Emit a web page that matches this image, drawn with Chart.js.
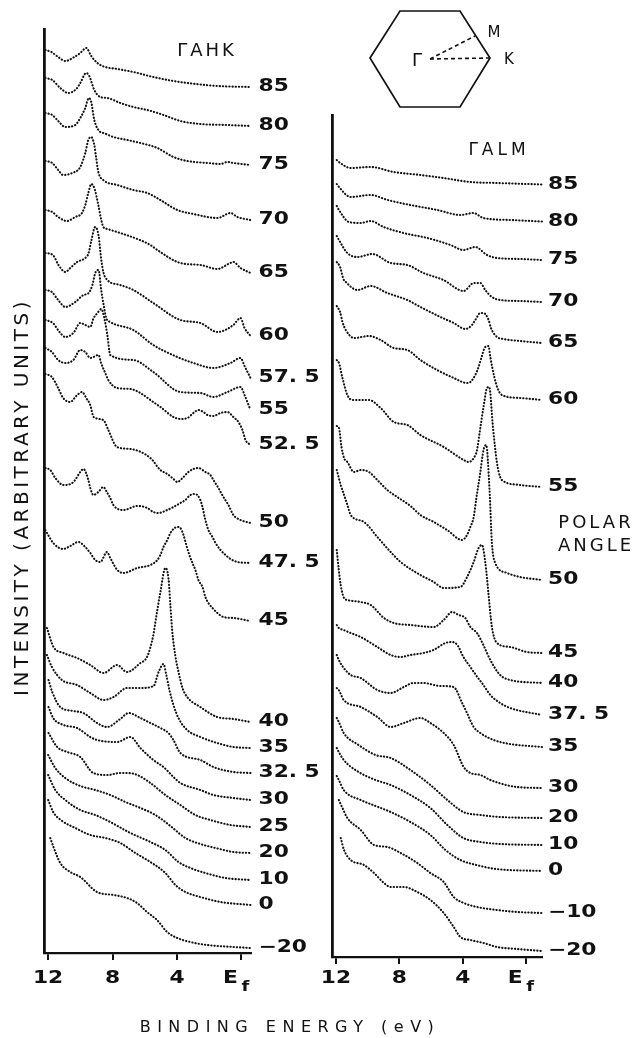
<!DOCTYPE html>
<html>
<head>
<meta charset="utf-8">
<script src="https://cdn.jsdelivr.net/npm/chart.js@4.4.1/dist/chart.umd.min.js"></script>
<style>
  html, body { margin: 0; padding: 0; background: #fff; }
  #page { position: relative; width: 638px; height: 1038px; overflow: hidden; font-family: "DejaVu Sans", sans-serif; color: #111; }
  #page canvas { position: absolute; left: 0; top: 0; }
  #page svg { position: absolute; left: 0; top: 0; }
  .txt { position: absolute; white-space: nowrap; line-height: 1; transform: translate(-50%, -50%); }
</style>
</head>
<body>
<div id="page">
  <canvas id="ahkChart" width="638" height="1038"></canvas>
  <canvas id="almChart" width="638" height="1038"></canvas>
  <svg width="638" height="1038">
    <polygon points="370,58 400,11 460,11 490,58 460,107 400,107" fill="none" stroke="#111" stroke-width="1.7"/>
    <line x1="430" y1="59" x2="490" y2="58" stroke="#111" stroke-width="1.6" stroke-dasharray="4 3"/>
    <line x1="430" y1="59" x2="475" y2="36" stroke="#111" stroke-width="1.6" stroke-dasharray="4 3"/>
  </svg>
  <div class="txt" style="left:417px;top:60px;font-size:18px;">Γ</div>
  <div class="txt" style="left:494px;top:32px;font-size:15px;">M</div>
  <div class="txt" style="left:509px;top:59px;font-size:15px;">K</div>
  <div class="txt" style="left:207px;top:50px;font-size:18px;letter-spacing:3px;">ΓAHK</div>
  <div class="txt" style="left:499px;top:149px;font-size:17px;letter-spacing:4px;">ΓALM</div>
  <div class="txt" style="left:596px;top:522px;font-size:18px;letter-spacing:3px;">POLAR</div>
  <div class="txt" style="left:596px;top:545px;font-size:18px;letter-spacing:3px;">ANGLE</div>
  <div class="txt" style="left:21px;top:497px;font-size:20px;letter-spacing:3.5px;transform:translate(-50%,-50%) rotate(-90deg);">INTENSITY (ARBITRARY UNITS)</div>
  <div class="txt" style="left:290px;top:1027px;font-size:16px;letter-spacing:6.5px;">BINDING ENERGY (eV)</div>
</div>

<script>
// binding energy (eV), intensity (arb. units)
const energyTicks = [12, 8, 4, 0];

// Gamma-A-H-K plane
const ahkAngles = ['85', '80', '75', '70', '65', '60', '57. 5', '55', '52. 5', '50', '47. 5', '45',
  '40', '35', '32. 5', '30', '25', '20', '10', '0', '\u221220'];

const ahk85 = [[12.17,903],[11.8,901],[11.37,896],[10.93,892],[10.37,896],[10.0,900],[9.63,905],[9.32,897],[8.94,890],[8.45,886],[7.7,884],[6.71,881],[5.47,876],[4.22,872],[3.35,870],[1.49,867],[-0.56,866]];
const ahk80 = [[12.17,875],[11.74,873],[11.24,865],[10.75,860],[10.25,864],[10.0,870],[9.63,880],[9.44,877],[9.13,863],[8.76,856],[8.32,855],[7.52,850],[6.71,846],[5.84,843],[4.84,838],[3.79,832],[2.55,829],[0.87,828],[-0.56,827]];
const ahk75 = [[12.17,840],[11.74,838],[11.37,832],[10.93,826],[10.31,828],[10.0,835],[9.69,845],[9.47,855],[9.32,851],[9.13,833],[8.76,821],[8.57,820],[7.95,816],[7.08,813],[6.27,810],[5.22,805],[4.22,796],[3.35,792],[2.11,790],[1.3,789],[0.87,791],[0.5,790],[-0.56,788]];
const ahk70 = [[12.17,792],[11.74,790],[11.37,783],[11.06,778],[10.5,780],[10.0,786],[9.69,800],[9.5,813],[9.32,816],[9.13,808],[9.01,795],[8.88,781],[8.57,773],[7.7,768],[6.71,763],[5.84,760],[5.03,753],[3.98,743],[2.98,739],[1.49,735],[0.68,740],[0.25,736],[-0.56,733]];
const ahk65 = [[12.17,743],[11.74,741],[11.37,736],[10.83,732],[10.31,736],[9.89,740],[9.69,748],[9.5,760],[9.32,769],[9.13,765],[8.88,748],[8.71,734],[8.57,726],[8.32,724],[7.52,720],[6.46,714],[5.65,708],[5.22,703],[3.79,690],[2.55,688],[1.49,684],[0.81,689],[0.5,691],[0.06,685],[-0.56,680]];
const ahk60 = [[12.17,700],[11.7,698],[11.35,688],[10.93,681],[10.62,685],[10.2,691],[9.69,695],[9.48,700],[9.32,712],[9.07,726],[8.86,717],[8.71,695],[8.57,681],[8.32,673],[7.52,668],[6.71,663],[5.47,650],[3.79,633],[2.55,630],[1.49,621],[0.5,628],[0.06,635],[-0.19,625],[-0.56,617]];
const ahk575 = [[12.17,663],[11.76,661],[11.37,653],[10.93,646],[10.31,651],[9.8,658],[9.48,660],[9.25,668],[9.07,680],[8.86,683],[8.71,664],[8.55,648],[8.39,635],[8.14,631],[6.71,623],[5.47,608],[3.98,596],[2.98,590],[1.74,585],[0.68,590],[0.06,595],[-0.19,587],[-0.56,575]];
const ahk55 = [[12.17,633],[11.7,630],[11.24,620],[10.93,616],[10.43,620],[10.0,630],[9.69,628],[9.38,626],[9.17,635],[8.93,640],[8.7,644],[8.51,635],[8.32,618],[8.14,598],[6.71,593],[5.47,581],[3.79,561],[2.55,560],[1.74,556],[0.87,561],[0.06,566],[-0.19,558],[-0.56,543]];
const ahk525 = [[12.17,605],[11.76,601],[11.37,593],[10.93,590],[10.43,593],[10.0,603],[9.69,601],[9.38,595],[8.86,598],[8.71,590],[8.45,580],[8.26,573],[7.72,565],[6.89,564],[6.27,560],[5.65,553],[5.03,546],[4.22,536],[3.79,534],[3.35,535],[2.98,540],[2.67,543],[2.36,541],[2.11,538],[1.74,537],[1.3,540],[0.87,541],[0.5,536],[0.19,531],[-0.06,523],[-0.25,513],[-0.56,508]];
const ahk50 = [[12.17,579],[11.76,576],[11.37,565],[11.06,555],[10.62,551],[10.25,557],[9.89,561],[9.63,555],[9.38,548],[9.17,536],[8.57,533],[8.26,523],[7.72,506],[6.89,504],[5.65,495],[5.03,483],[4.6,479],[4.22,474],[3.98,471],[3.66,475],[3.29,481],[2.98,484],[2.67,485],[2.24,481],[1.93,478],[1.74,473],[1.43,465],[1.12,456],[0.81,448],[0.5,438],[0.06,433],[-0.56,430]];
const ahk475 = [[12.17,485],[11.86,483],[11.55,475],[11.04,468],[10.42,471],[10.0,481],[9.8,484],[9.5,473],[9.38,465],[9.19,458],[8.88,461],[8.57,466],[8.32,460],[8.14,455],[7.95,448],[7.33,443],[6.46,447],[5.84,445],[5.47,441],[5.16,440],[4.6,443],[4.22,446],[3.79,450],[3.48,453],[3.17,458],[2.86,459],[2.55,453],[2.42,446],[2.24,433],[2.05,423],[1.8,416],[1.61,410],[1.3,403],[0.99,398],[0.68,394],[0.25,391],[-0.56,390]];
const ahk45 = [[12.17,423],[11.99,418],[11.68,410],[11.06,404],[10.62,407],[10.12,411],[9.69,406],[9.38,400],[9.07,393],[8.76,391],[8.34,401],[8.14,395],[7.7,383],[7.33,380],[6.46,385],[5.65,388],[5.22,393],[5.03,398],[4.84,406],[4.6,413],[4.41,420],[4.22,424],[3.98,426],[3.79,425],[3.6,418],[3.42,408],[3.23,398],[3.04,390],[2.86,383],[2.67,373],[2.42,366],[2.24,356],[2.05,350],[1.8,345],[1.49,340],[1.12,336],[0.5,335],[-0.56,332]];
const ahk40 = [[12.07,325],[11.66,306],[11.04,300],[10.2,295],[9.38,288],[8.55,280],[7.72,288],[7.1,281],[6.27,290],[5.86,296],[5.48,317],[5.28,337],[5.03,361],[4.72,385],[4.53,375],[4.41,348],[4.3,323],[4.1,297],[3.89,280],[3.66,265],[3.37,256],[2.55,246],[1.51,236],[0.5,234],[-0.56,231]];
const ahk35 = [[12.07,298],[11.76,286],[11.14,273],[10.2,268],[9.38,260],[8.55,253],[7.93,256],[7.1,265],[6.27,265],[5.45,267],[5.14,281],[4.84,289],[4.66,278],[4.47,263],[4.22,248],[3.91,235],[3.37,223],[2.55,216],[1.51,210],[0.5,206],[-0.56,205]];
const ahk325 = [[11.97,273],[11.74,261],[11.24,246],[10.43,242],[9.81,240],[8.96,230],[8.34,226],[7.52,234],[7.0,240],[6.27,235],[5.65,230],[5.03,225],[4.53,220],[4.22,213],[3.79,200],[2.55,193],[1.74,186],[0.5,181],[-0.56,180]];
const ahk30 = [[11.97,246],[11.68,235],[11.04,228],[10.2,225],[9.38,216],[8.96,213],[7.72,211],[6.89,216],[6.27,205],[5.47,193],[4.84,186],[4.22,176],[3.79,170],[2.55,163],[1.74,158],[0.5,155],[-0.56,153]];
const ahk25 = [[11.97,220],[11.43,206],[10.81,201],[10.0,196],[9.19,180],[8.32,178],[7.52,180],[7.08,180],[6.46,178],[5.65,170],[4.72,158],[3.79,148],[2.86,138],[1.93,133],[0.68,128],[-0.56,126]];
const ahk20 = [[11.99,198],[11.55,185],[10.93,175],[10.0,167],[9.07,163],[8.14,158],[7.2,151],[6.27,145],[5.34,138],[4.41,127],[3.48,115],[2.55,109],[1.61,105],[0.5,101],[-0.56,100]];
const ahk10 = [[11.99,178],[11.55,163],[10.93,153],[10.0,143],[9.07,138],[8.14,131],[6.89,120],[5.65,111],[4.72,103],[3.91,91],[3.17,85],[2.24,80],[0.99,75],[-0.56,73]];
const ahk0 = [[11.99,153],[11.68,141],[11.12,132],[10.31,125],[9.38,118],[8.45,115],[7.52,110],[6.58,100],[5.65,91],[4.72,80],[4.1,68],[3.48,61],[2.55,56],[1.3,51],[-0.56,48]];
const ahkM20 = [[11.86,115],[11.66,106],[11.24,90],[10.62,81],[10.0,76],[8.96,61],[7.93,58],[7.1,55],[6.48,50],[5.86,41],[5.24,33],[4.61,21],[3.99,15],[3.17,11],[2.13,8],[0.48,6],[-0.56,5]];

// Gamma-A-L-M plane
const almAngles = ['85', '80', '75', '70', '65', '60', '55', '50', '45', '40', '37. 5', '35',
  '30', '20', '10', '0', '\u221210', '\u221220'];

const alm85 = [[11.95,797],[11.81,795],[11.07,789],[9.81,790],[8.36,785],[6.67,782],[5.22,779],[3.52,775],[1.82,774],[-1.0,772.5]];
const alm80 = [[11.95,773],[11.81,770],[11.07,760],[9.81,762],[8.74,757],[7.3,752],[5.6,747],[4.15,742],[3.33,744],[2.7,739],[1.01,737],[-1.0,735.5]];
const alm75 = [[11.95,751],[11.81,747],[11.18,735],[10.44,734],[9.81,736],[8.99,730],[7.74,724],[6.23,719],[4.78,712],[3.96,707],[3.21,710],[2.47,702],[1.84,699],[0.38,698],[-1.0,697]];
const alm70 = [[11.95,721],[11.81,717],[11.28,704],[10.65,700],[9.7,703],[8.55,694],[7.5,692],[6.48,684],[5.22,677],[3.94,666],[3.31,674],[2.89,674],[2.58,667],[2.16,660],[1.64,657],[0.38,656],[-1.0,655]];
const alm65 = [[11.95,695],[11.74,690],[11.53,678],[11.38,675],[10.65,667],[9.81,671],[8.76,664],[7.5,657],[6.67,650],[5.41,640],[4.57,634],[3.84,628],[3.42,632],[3.21,637],[2.89,644],[2.69,644],[2.37,637],[2.22,629],[1.84,620],[1.43,618],[0.38,616],[-1.0,614]];
const alm60 = [[11.95,651],[11.74,645],[11.59,635],[11.38,627],[10.86,619],[9.92,621],[9.18,617],[8.35,609],[7.5,607],[6.67,597],[5.62,587],[4.57,579],[3.73,574],[3.52,575],[3.21,582],[3.0,590],[2.83,599],[2.58,610],[2.37,611],[2.26,600],[2.01,580],[1.81,569],[1.53,562],[0.38,559],[-1.0,557]];
const alm55 = [[11.95,597],[11.81,594],[11.59,579],[11.28,562],[10.96,557],[9.92,557],[9.18,549],[8.35,535],[7.5,532],[6.67,522],[5.2,510],[3.94,497],[3.63,495],[3.31,499],[3.1,507],[2.94,524],[2.69,550],[2.47,569],[2.33,570],[2.09,529],[1.84,494],[1.64,480],[1.45,476],[0.38,472],[-1.0,470]];
const alm50 = [[11.95,531],[11.81,529],[11.65,510],[11.49,499],[11.28,495],[10.86,485],[10.44,487],[9.92,485],[9.39,477],[8.76,467],[8.13,460],[7.3,451],[6.67,442],[5.83,435],[4.99,427],[4.04,417],[3.73,422],[3.52,430],[3.31,440],[3.14,459],[2.89,485],[2.69,507],[2.52,512],[2.31,467],[2.16,414],[1.95,394],[1.21,384],[0.38,380],[-1.0,377]];
const alm45 = [[11.95,487],[11.7,472],[11.49,462],[11.28,452],[11.07,442],[10.23,435],[9.39,420],[8.55,405],[7.92,395],[6.67,382],[5.83,375],[5.2,369],[4.15,370],[3.73,380],[3.31,395],[3.0,409],[2.79,412],[2.58,395],[2.37,362],[2.16,330],[1.84,314],[1.01,310],[-0.04,305],[-1.0,304]];
const alm40 = [[11.95,407],[11.82,387],[11.7,372],[11.49,359],[11.28,357],[10.44,355],[9.81,352],[8.97,339],[8.35,334],[7.3,332],[5.83,330],[5.2,337],[4.67,345],[4.26,342],[3.84,339],[3.52,330],[3.1,324],[2.7,312],[2.26,297],[1.64,282],[1.01,277],[-1.0,274]];
const alm375 = [[11.95,332],[11.82,329],[11.51,327],[11.07,324],[10.44,320],[9.39,310],[8.55,302],[7.92,300],[7.3,302],[6.48,304],[5.85,307],[5.09,314],[4.67,315],[4.34,312],[3.96,300],[3.52,290],[3.08,280],[2.7,272],[2.26,262],[1.64,254],[1.01,249],[-1.0,242]];
const alm35 = [[11.95,302],[11.82,297],[11.51,289],[11.07,282],[10.44,279],[9.39,267],[8.55,264],[7.72,270],[7.11,274],[6.48,274],[5.41,271],[4.57,270],[4.04,254],[3.73,244],[3.31,230],[2.89,224],[2.05,217],[1.01,213],[-1.0,210]];
const alm30 = [[11.95,269],[11.82,267],[11.51,257],[10.44,250],[9.39,240],[8.55,230],[7.72,234],[6.67,239],[6.04,234],[5.2,224],[4.57,212],[3.94,190],[3.52,184],[2.89,182],[2.26,177],[0.58,170],[-1.0,169]];
const alm20 = [[11.95,239],[11.82,235],[11.51,224],[10.57,212],[9.5,202],[8.55,199],[7.3,187],[6.04,172],[4.97,157],[3.96,145],[2.89,142],[1.64,140],[-1.0,139]];
const alm10 = [[11.95,209],[11.82,205],[11.51,197],[10.57,185],[9.5,177],[8.55,172],[7.3,162],[6.04,149],[4.97,132],[3.96,119],[2.89,115],[1.64,113],[-1.0,112]];
const alm0 = [[11.95,181],[11.82,177],[11.51,167],[10.44,157],[9.5,151],[8.55,145],[7.3,135],[6.04,122],[5.09,107],[4.15,97],[3.14,92],[1.89,88],[-1.0,86]];
const almM10 = [[11.82,157],[11.59,149],[11.28,139],[10.44,127],[9.6,112],[8.76,110],[7.92,104],[6.87,94],[6.04,84],[5.2,75],[4.57,60],[3.94,54],[3.1,50],[1.84,47],[0.58,45],[-1.0,44]];
const almM20 = [[11.7,119],[11.49,107],[11.07,97],[10.23,92],[9.6,84],[8.97,74],[8.55,70],[7.72,70],[6.87,65],[6.04,57],[5.2,44],[4.57,30],[4.15,20],[3.52,17],[2.69,14],[1.84,10],[0.58,8],[-1.0,6]];

const ahkSpectra = [ahk85, ahk80, ahk75, ahk70, ahk65, ahk60, ahk575, ahk55, ahk525, ahk50, ahk475, ahk45,
  ahk40, ahk35, ahk325, ahk30, ahk25, ahk20, ahk10, ahk0, ahkM20];
const almSpectra = [alm85, alm80, alm75, alm70, alm65, alm60, alm55, alm50, alm45, alm40, alm375, alm35,
  alm30, alm20, alm10, alm0, almM10, almM20];

const INK = '#111';
const NUM_FONT = 'bold 17px "DejaVu Sans"';

function wideText(ctx, text, x, y, align) {
  ctx.save();
  ctx.translate(x, y);
  ctx.scale(1.28, 1);
  ctx.textAlign = align || 'left';
  ctx.fillText(text, 0, 0);
  ctx.restore();
}

// angle labels at the end of each curve, plus the energy tick labels
const angleLabels = {
  id: 'angleLabels',
  afterDatasetsDraw(chart, args, opts) {
    const ctx = chart.ctx;
    ctx.save();
    ctx.fillStyle = INK;
    ctx.font = NUM_FONT;
    ctx.textBaseline = 'middle';
    chart.data.datasets.forEach((ds, i) => {
      const pts = chart.getDatasetMeta(i).data;
      const last = pts[pts.length - 1];
      wideText(ctx, ds.label, last.x + opts.gap, last.y);
    });
    const xs = chart.scales.x;
    const ty = 979;
    energyTicks.forEach(v => {
      const px = xs.getPixelForValue(v);
      if (v === 0) {
        wideText(ctx, 'E', px - 11, ty, 'center');
        ctx.font = 'bold 14px "DejaVu Sans"';
        wideText(ctx, 'f', px + 4, ty + 8, 'center');
        ctx.font = NUM_FONT;
      } else {
        wideText(ctx, String(v), px, ty, 'center');
      }
    });
    ctx.restore();
  }
};

function spectrumChart(id, spectra, labels, box) {
  return new Chart(document.getElementById(id), {
    type: 'line',
    data: {
      datasets: spectra.map((pts, i) => ({
        label: labels[i],
        data: pts.map(p => ({ x: p[0], y: p[1] })),
        borderColor: INK,
        borderWidth: 2.1,
        borderDash: [0.3, 2.9],
        borderCapStyle: 'round',
        pointRadius: 0,
        fill: false,
        cubicInterpolationMode: 'monotone',
        clip: false
      }))
    },
    options: {
      responsive: false,
      animation: false,
      events: [],
      layout: { padding: box.padding },
      plugins: {
        legend: { display: false },
        tooltip: { enabled: false },
        angleLabels: { gap: box.gap }
      },
      scales: {
        x: {
          type: 'linear',
          reverse: true,
          min: box.eMin,
          max: 12.25,
          afterBuildTicks: s => { s.ticks = energyTicks.map(v => ({ value: v })); },
          afterFit: s => { s.height = 50; },
          ticks: { display: false },
          grid: { display: true, drawOnChartArea: false, drawTicks: true, tickLength: 7, color: INK, lineWidth: 2 },
          border: { display: true, color: INK, width: 2.3 }
        },
        y: {
          min: 0,
          max: box.iMax,
          afterFit: s => { s.width = 0; },
          ticks: { display: false },
          grid: { display: false, drawTicks: false },
          border: { display: true, color: INK, width: 2.8 }
        }
      }
    },
    plugins: [angleLabels]
  });
}

spectrumChart('ahkChart', ahkSpectra, ahkAngles, {
  padding: { left: 44, right: 387.5, top: 29, bottom: 35 },
  eMin: -0.56, iMax: 924, gap: 8
});
spectrumChart('almChart', almSpectra, almAngles, {
  padding: { left: 332, right: 96, top: 115, bottom: 31 },
  eMin: -1.0, iMax: 842, gap: 6
});
</script>
</body>
</html>
